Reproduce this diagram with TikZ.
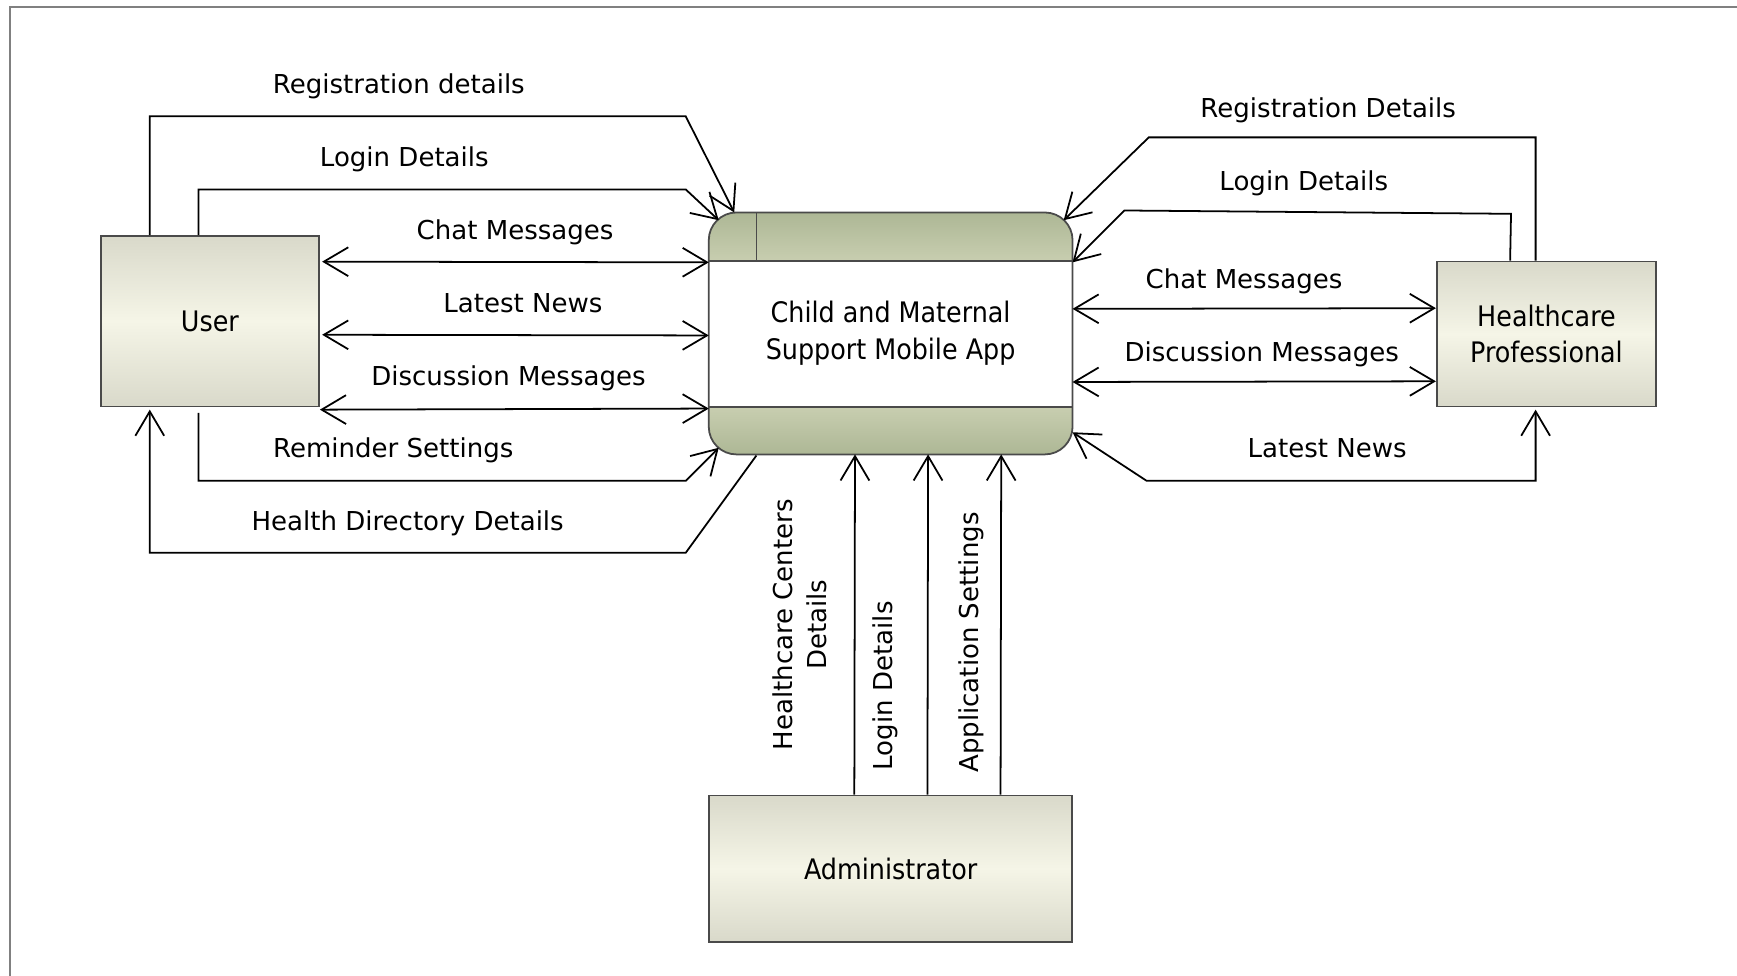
\documentclass[tikz,border=0pt]{standalone}
\usepackage{fontspec}
\setmainfont{DejaVu Sans}
\newfontfamily\condfont{DejaVu Sans Condensed}
\usetikzlibrary{arrows.meta,calc}
\definecolor{boxedge}{HTML}{D9D9CA}
\definecolor{boxmid}{HTML}{F5F5E7}
\definecolor{banddark}{HTML}{ADB795}
\definecolor{bandlight}{HTML}{C8CEB0}
\definecolor{linegray}{HTML}{4A4A4A}
\definecolor{framegray}{HTML}{808080}
\begin{document}
\begin{tikzpicture}[x=1pt,y=-1pt,
  entity/.style={draw=linegray, line width=1.6pt, top color=boxedge, bottom color=boxedge, middle color=boxmid,
    font=\condfont\fontsize{25.5}{33}\selectfont, align=center, inner sep=0pt},
  lbl/.style={font=\fontsize{23.5}{28}\selectfont, anchor=base, inner sep=0pt},
  vlbl/.style={font=\fontsize{23.5}{30}\selectfont, rotate=90, align=center, inner sep=0pt},
  flow/.style={line width=1.6pt, black},
  arr/.style={flow, -{Straight Barb[length=22pt,width=26pt]}},
  darr/.style={flow, {Straight Barb[length=22pt,width=26pt]}-{Straight Barb[length=22pt,width=26pt]}},
  frameline/.style={draw=linegray, line width=1.6pt},
]
\useasboundingbox (0,0) rectangle (1568,881);
\draw[framegray, line width=2pt] (9,881) -- (9,6) -- (1568,6);

% entities
\node[entity, minimum width=197pt, minimum height=154pt] (user) at (189.5,290) {User};
\node[entity, minimum width=198pt, minimum height=131pt] (hp) at (1396,301.5) {Healthcare\\Professional};
\node[entity, minimum width=328pt, minimum height=132pt] (admin) at (804,784) {Administrator};

% process
\node[minimum width=328pt, minimum height=218pt, inner sep=0pt] (app) at (804,301) {};
\begin{scope}
  \clip[rounded corners=25pt] (app.south west) rectangle (app.north east);
  \fill[white] (app.south west) rectangle (app.north east);
  \shade[top color=banddark, bottom color=bandlight] (app.north west) rectangle ($(app.north east)+(0,44)$);
  \shade[top color=bandlight, bottom color=banddark] ($(app.south west)+(0,-43)$) rectangle (app.south east);
\end{scope}
\draw[frameline, rounded corners=25pt] (app.south west) rectangle (app.north east);
\draw[frameline] ($(app.north west)+(0,44)$) -- ($(app.north east)+(0,44)$);
\draw[frameline] ($(app.south west)+(0,-43)$) -- ($(app.south east)+(0,-43)$);
\draw[frameline] ($(app.north west)+(43,0)$) -- ($(app.north west)+(43,44)$);
\node[font=\condfont\fontsize{25.5}{33}\selectfont, align=center] (apptext) at (app.center) {Child and Maternal\\Support Mobile App};

% left flows
\draw[arr] ($(user.north west)+(45,0)$) |- (619,105) -- ($(app.north west)+(23,0)$);
\draw[arr] ($(user.north west)+(89,0)$) |- (619,171) -- ($(app.north west)+(9,7)$);
\draw[darr] ($(user.north east)+(2,24)$) -- ($(app.north west)+(0,45)$);
\draw[darr] ($(user.north east)+(2,90)$) -- ($(app.north west)+(0,111)$);
\draw[darr] ($(user.south east)+(0,2)$) -- ($(app.north west)+(0,177)$);
\draw[arr] ($(user.south west)+(89,5)$) |- (619,434) -- ($(app.south west)+(9,-6)$);
\draw[arr] ($(app.south west)+(43,1)$) -- (619,499) -| ($(user.south west)+(45,2)$);

% right flows
\draw[arr] ($(hp.north west)+(90,0)$) |- (1037,124) -- ($(app.north east)+(-8,7)$);
\draw[arr] ($(hp.north west)+(67,0)$) -- (1364,193) -- (1015,190) -- ($(app.north east)+(0,45)$);
\draw[darr] ($(app.north east)+(0,87)$) -- ($(hp.north west)+(0,43)$);
\draw[darr] ($(app.north east)+(0,153)$) -- ($(hp.north west)+(0,109)$);
\draw[darr] ($(app.south east)+(0,-20)$) -- (1035,434) -| ($(hp.south west)+(90,2)$);

% bottom flows
\draw[arr] ($(admin.north west)+(132,0)$) -- ($(app.south west)+(132,0)$);
\draw[arr] ($(admin.north west)+(198,0)$) -- ($(app.south west)+(198,0)$);
\draw[arr] ($(admin.north west)+(264,0)$) -- ($(app.south west)+(264,0)$);

% labels
\node[lbl] (l1) at (360,84) {Registration details};
\node[lbl] (l2) at (365,150) {Login Details};
\node[lbl] (l3) at (465,216) {Chat Messages};
\node[lbl] (l4) at (472,282) {Latest News};
\node[lbl] (l5) at (459,348) {Discussion Messages};
\node[lbl] (l6) at (355,413) {Reminder Settings};
\node[lbl] (l7) at (368,479) {Health Directory Details};
\node[lbl] (r1) at (1199,106) {Registration Details};
\node[lbl] (r2) at (1177,172) {Login Details};
\node[lbl] (r3) at (1123,260) {Chat Messages};
\node[lbl] (r4) at (1139,326) {Discussion Messages};
\node[lbl] (r5) at (1198,413) {Latest News};
\node[vlbl] (b1) at (722,564) {Healthcare Centers\\Details};
\node[vlbl] (b2) at (799,619) {Login Details};
\node[vlbl] (b3) at (877,580) {Application Settings};
\end{tikzpicture}
\end{document}
